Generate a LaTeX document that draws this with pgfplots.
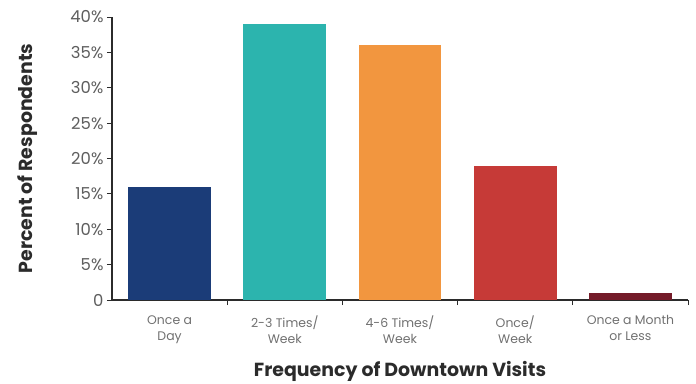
\documentclass[border=0pt]{standalone}
\usepackage{pgfplots}
\pgfplotsset{compat=1.18}
\usepackage{fontspec}
\setmainfont{Poppins}

\definecolor{navy}{HTML}{1B3C78}
\definecolor{teal}{HTML}{2CB4AE}
\definecolor{orange}{HTML}{F2963F}
\definecolor{brick}{HTML}{C63A37}
\definecolor{maroon}{HTML}{741B29}
\definecolor{axisgray}{HTML}{2B2B2B}
\definecolor{ticktext}{HTML}{5E5E5E}
\definecolor{cattext}{HTML}{707070}

\begin{document}
\begin{tikzpicture}[x=1bp,y=1bp]
\begin{axis}[
  at={(0,0)}, anchor=south west,
  scale only axis, width=576bp, height=283bp,
  xmin=-0.5, xmax=4.5, ymin=0, ymax=40,
  axis lines*=left,
  axis line style={axisgray, line width=1.3bp},
  tick style={axisgray, line width=1bp},
  tick align=outside,
  major tick length=5bp,
  ytick={0,5,...,40},
  yticklabels={0,5\%,10\%,15\%,20\%,25\%,30\%,35\%,40\%},
  yticklabel style={font=\fontsize{16.5}{16.5}\selectfont, text=ticktext},
  xtick={0.5,1.5,2.5,3.5,4.5},
  xticklabels={},
  extra x ticks={0,1,2,3,4},
  extra x tick labels={{Once a\\Day},{2-3 Times/\\Week},{4-6 Times/\\Week},{Once/\\Week},{Once a Month\\or Less}},
  extra x tick style={major tick length=0pt},
  xticklabel style={font=\fontsize{12.5}{16}\selectfont, text=cattext, align=center, yshift=-12bp},
  xlabel={Frequency of Downtown Visits},
  ylabel={Percent of Respondents},
  every axis x label/.style={at={(axis description cs:0.5,-0.251)}, anchor=center,
    font=\fontsize{19}{19}\selectfont\bfseries, text=axisgray},
  every axis y label/.style={at={(axis description cs:-0.146,0.5)}, anchor=center, rotate=90,
    font=\fontsize{19}{19}\selectfont\bfseries, text=axisgray},
  clip=false,
]
\addplot[ybar, bar width=0.72, fill=navy, draw=none] coordinates {(0,16)};
\addplot[ybar, bar width=0.72, fill=teal, draw=none] coordinates {(1,39)};
\addplot[ybar, bar width=0.72, fill=orange, draw=none] coordinates {(2,36)};
\addplot[ybar, bar width=0.72, fill=brick, draw=none] coordinates {(3,19)};
\addplot[ybar, bar width=0.72, fill=maroon, draw=none] coordinates {(4,1)};
\end{axis}
\pgfresetboundingbox
\path (-112,-83) rectangle (584,300);
\end{tikzpicture}
\end{document}
